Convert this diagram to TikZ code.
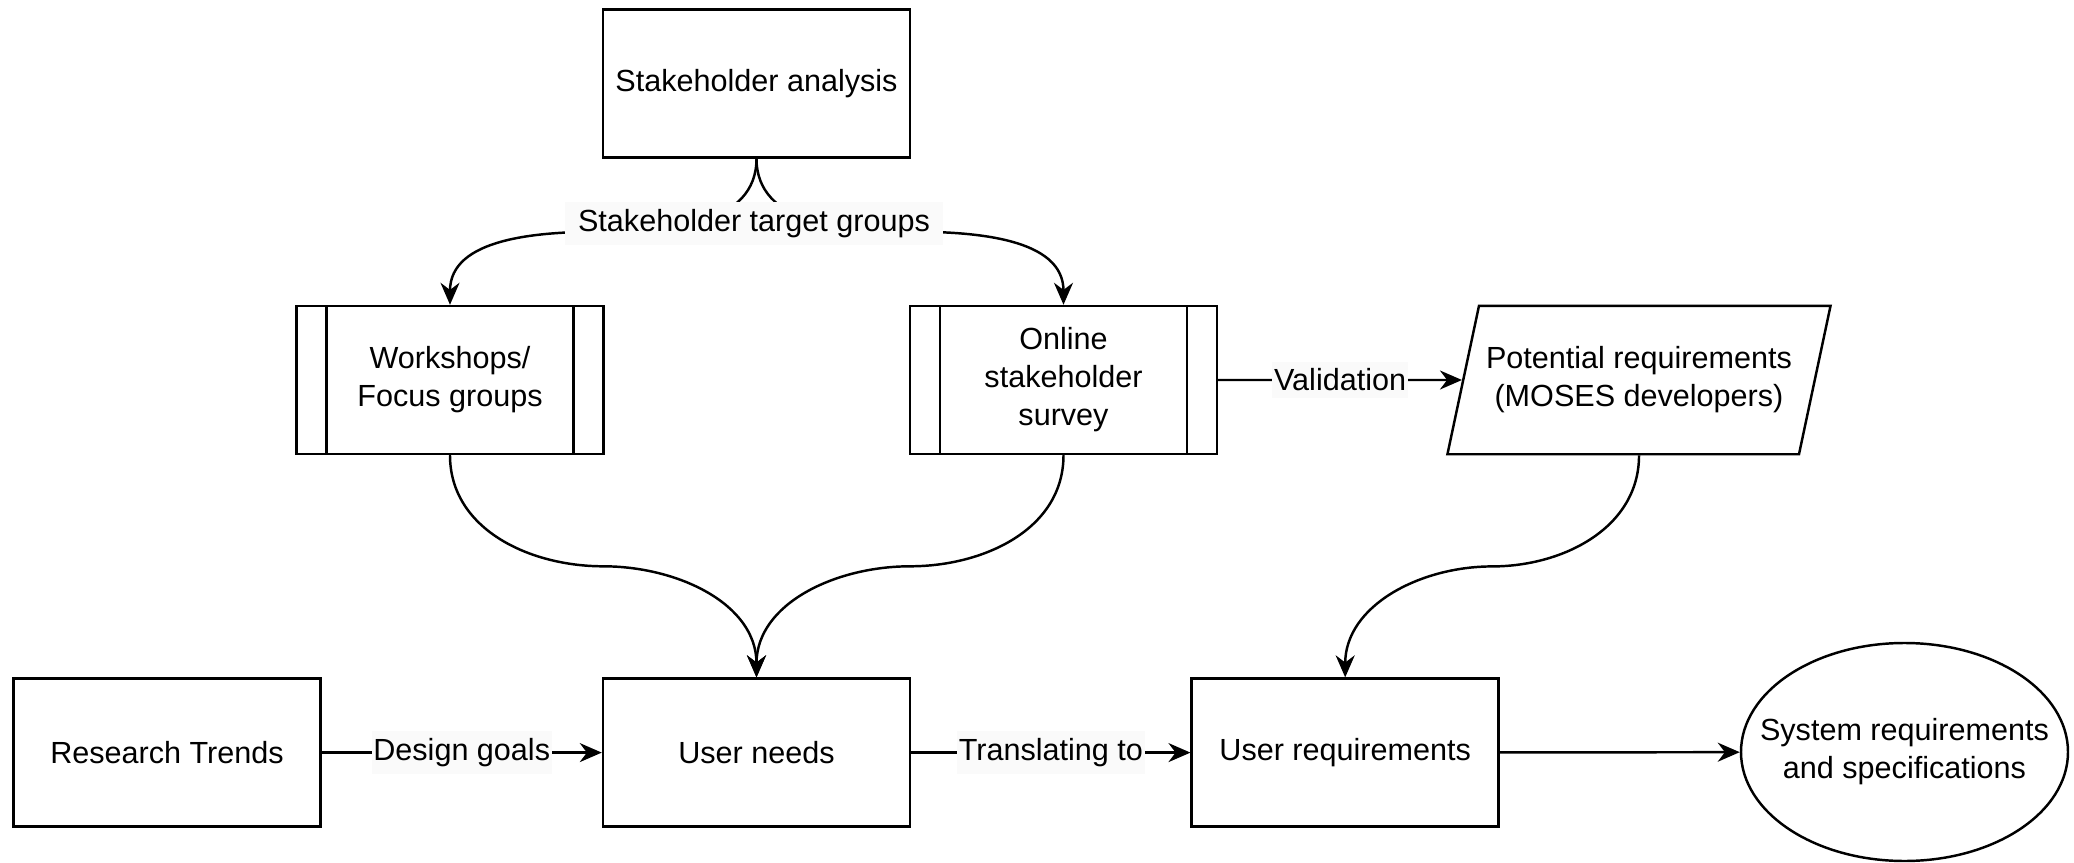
\documentclass[tikz,border=0pt]{standalone}
\usepackage{fontspec}
\setmainfont{Liberation Sans}
\usetikzlibrary{shapes.geometric,arrows.meta,calc}

\begin{document}
\begin{tikzpicture} [>={Stealth[length=2.2mm,width=1.9mm]},line width=0.7pt,
			font=\fontsize{8.7}{10.8}\selectfont,
			box/.style={draw,minimum width=3.07cm,minimum height=1.48cm,inner sep=1pt,align=center},
			process/.style={box,path picture={
				\draw ([xshift=3mm]path picture bounding box.north west) -- ([xshift=3mm]path picture bounding box.south west);
				\draw ([xshift=-3mm]path picture bounding box.north east) -- ([xshift=-3mm]path picture bounding box.south east);}},
			data/.style={draw,trapezium,trapezium left angle=78,trapezium right angle=102,
				inner xsep=2pt,inner ysep=0.41cm,align=center},
			terminal/.style={draw,ellipse,minimum width=3.27cm,minimum height=2.18cm,inner xsep=-0.32cm,inner ysep=1pt,align=center},
			tag/.style={fill={rgb,255:red,250;green,250;blue,250},inner xsep=0.5pt,inner ysep=2pt},
			group/.style={tag,inner xsep=0.13cm,inner ysep=0.07cm}
			]

		\useasboundingbox (0,0) rectangle (20.74,8.62);

		\node [box] (sa) at (7.565,7.787) {Stakeholder analysis};
		\node [box] (rt) at (1.67,1.094) {Research Trends};
		\node [process] (ws) at (4.5,4.82) {Workshops/\\Focus groups};
		\node [process] (os) at (10.635,4.82) {Online\\stakeholder\\survey};
		\node [data] (pr) at (16.39,4.82) {Potential requirements\\(MOSES developers)};
		\node [box] (un) at (7.565,1.094) {User needs};
		\node [box] (ur) at (13.452,1.094) {User requirements};
		\node [terminal] (sr) at (19.045,1.1) {System requirements\\and specifications};

		% curved connectors, level out half way down
		\draw [->] (sa.south) to [out=-90,in=0] ($(sa.south)!0.5!(ws.north)$) to [out=180,in=90] (ws.north);
		\draw [->] (sa.south) to [out=-90,in=180] ($(sa.south)!0.5!(os.north)$) to [out=0,in=90] (os.north);
		\node [group] (stg) at (7.54,6.385) {Stakeholder target groups};

		\draw [->] (ws.south) to [out=-90,in=180] ($(ws.south)!0.5!(un.north)$) to [out=0,in=90] (un.north);
		\draw [->] (os.south) to [out=-90,in=0] ($(os.south)!0.5!(un.north)$) to [out=180,in=90] (un.north);
		\draw [->] (pr.south) to [out=-90,in=0] ($(pr.south)!0.5!(ur.north)$) to [out=180,in=90] (ur.north);

		% straight connectors
		\draw [->] (os.east) -- node [tag] {Validation} (pr.west);
		\draw [->] (rt) -- node [tag] {Design goals} (un);
		\draw [->] (un) -- node [tag] {Translating to} (ur);
		\draw [->] (ur) -- (sr);

		\end{tikzpicture}
\end{document}
